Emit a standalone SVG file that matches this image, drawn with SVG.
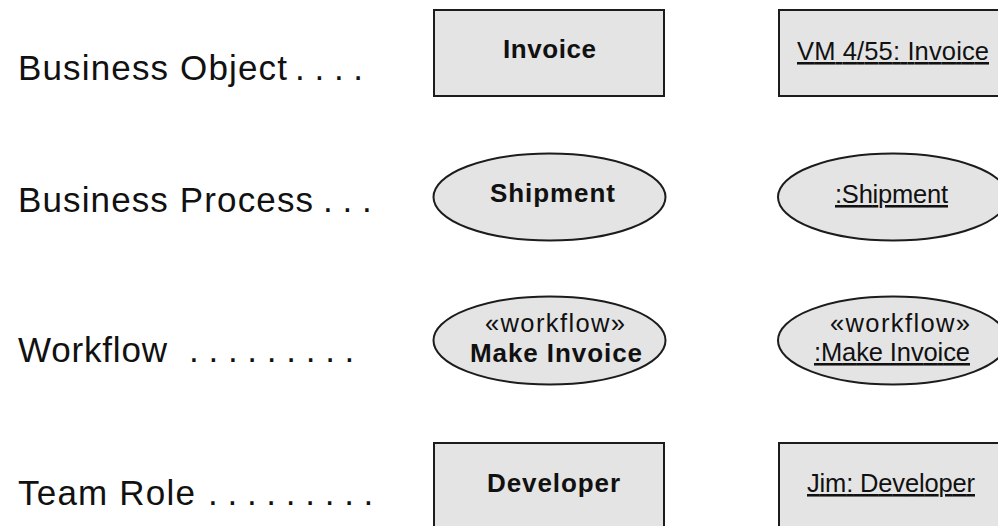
<svg xmlns="http://www.w3.org/2000/svg" width="998" height="526" viewBox="0 0 998 526">
  <style>
    .shape { fill: #e4e4e4; stroke: #1c1c1c; stroke-width: 2; }
    .label { font-family: "Liberation Sans", Arial, sans-serif; font-size: 35px; fill: #111; }
    .dots { font-family: "Liberation Sans", Arial, sans-serif; font-size: 35px; fill: #111; }
    .name { font-family: "Liberation Sans", Arial, sans-serif; font-size: 26px; font-weight: bold; fill: #111; text-anchor: middle; }
    .inst { font-family: "Liberation Sans", Arial, sans-serif; font-size: 25.5px; fill: #111; text-anchor: middle; text-decoration: underline; }
    .stereo { font-family: "Liberation Sans", Arial, sans-serif; font-size: 25.5px; fill: #111; text-anchor: middle; }
  </style>

  <!-- row captions -->
  <g id="row-labels">
    <text class="label" x="18" y="80" textLength="269">Business Object</text>
    <text class="dots" x="295" y="80">. . . .</text>
    <text class="label" x="18" y="212" textLength="295">Business Process</text>
    <text class="dots" x="323" y="212">. . .</text>
    <text class="label" x="18" y="362" textLength="149">Workflow</text>
    <text class="dots" x="189" y="362">. . . . . . . . .</text>
    <text class="label" x="18" y="505" textLength="177">Team Role</text>
    <text class="dots" x="208" y="505">. . . . . . . . .</text>
  </g>

  <!-- type notation -->
  <g id="invoice">
    <rect class="shape" x="434" y="10" width="230" height="86"/>
    <text class="name" x="549.5" y="58" textLength="93">Invoice</text>
  </g>
  <g id="shipment">
    <ellipse class="shape" cx="549.5" cy="197" rx="116" ry="43.5"/>
    <text class="name" x="552.5" y="202" textLength="125">Shipment</text>
  </g>
  <g id="make-invoice">
    <ellipse class="shape" cx="549.5" cy="340.5" rx="116" ry="44"/>
    <text class="stereo" x="555" y="332" textLength="140">«workflow»</text>
    <text class="name" x="556" y="362" textLength="172">Make Invoice</text>
  </g>
  <g id="developer">
    <rect class="shape" x="434" y="443" width="230" height="100"/>
    <text class="name" x="553.5" y="492" textLength="133">Developer</text>
  </g>

  <!-- instance notation -->
  <g id="invoice-instance">
    <rect class="shape" x="779" y="10" width="232" height="86"/>
    <text class="inst" x="893" y="60" textLength="192">VM 4/55: Invoice</text>
  </g>
  <g id="shipment-instance">
    <ellipse class="shape" cx="893" cy="197" rx="115" ry="43.5"/>
    <text class="inst" x="891.5" y="203" textLength="113">:Shipment</text>
  </g>
  <g id="make-invoice-instance">
    <ellipse class="shape" cx="893" cy="340.5" rx="115" ry="44"/>
    <text class="stereo" x="900" y="332" textLength="140">«workflow»</text>
    <text class="inst" x="892" y="361" textLength="156">:Make Invoice</text>
  </g>
  <g id="developer-instance">
    <rect class="shape" x="779" y="443" width="232" height="100"/>
    <text class="inst" x="891" y="492" textLength="168">Jim: Developer</text>
  </g>
</svg>
